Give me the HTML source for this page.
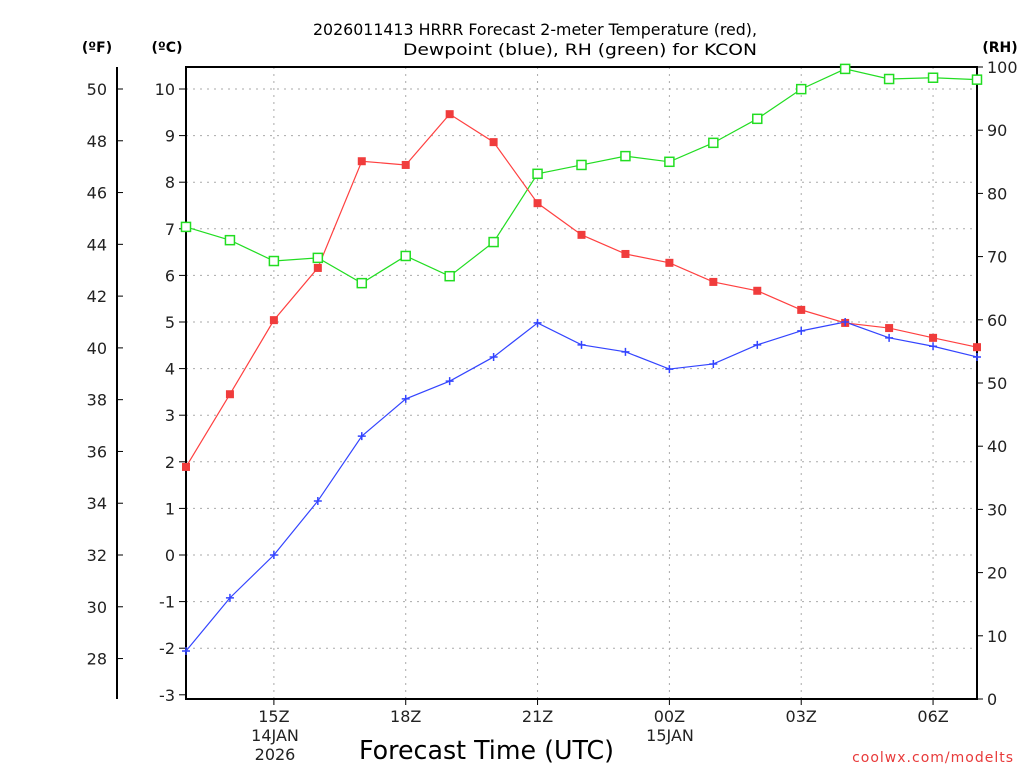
<!DOCTYPE html>
<html><head><meta charset="utf-8"><style>
body{margin:0;background:#fff}
svg text{font-family:"DejaVu Sans","Liberation Sans",sans-serif}
</style></head><body>
<svg id="chart" width="1024" height="768" xmlns="http://www.w3.org/2000/svg">
<g id="grid"></g>
<g id="axes"></g>
<g id="series"></g>
<text x="313" y="35" font-size="16" textLength="444" lengthAdjust="spacingAndGlyphs" fill="#000">2026011413 HRRR Forecast 2-meter Temperature (red),</text>
<text x="403" y="55" font-size="16" textLength="354" lengthAdjust="spacingAndGlyphs" fill="#000">Dewpoint (blue), RH (green) for KCON</text>
<text x="97" y="52" text-anchor="middle" font-size="14" font-weight="bold">(ºF)</text>
<text x="167" y="52" text-anchor="middle" font-size="14" font-weight="bold">(ºC)</text>
<text x="1000" y="52" text-anchor="middle" font-size="14" font-weight="bold">(RH)</text>
<text x="359" y="759" font-size="26" textLength="255" lengthAdjust="spacingAndGlyphs">Forecast Time (UTC)</text>
<text x="1014" y="762" text-anchor="end" font-size="14" fill="#e83a3a" letter-spacing="1">coolwx.com/modelts</text>
</svg>
<script>
const hours=[13,14,15,16,17,18,19,20,21,22,23,24,25,26,27,28,29,30,31];
const tempC=[1.89,3.45,5.04,6.16,8.45,8.37,9.46,8.86,7.55,6.87,6.46,6.27,5.86,5.67,5.26,4.98,4.87,4.66,4.46];
const dewC=[-2.06,-0.92,0,1.16,2.55,3.35,3.73,4.25,4.98,4.51,4.36,3.99,4.10,4.51,4.81,5.0,4.66,4.48,4.25];
const rh=[74.7,72.6,69.3,69.8,65.8,70.1,66.9,72.3,83.1,84.5,85.9,85.0,88.0,91.8,96.5,99.7,98.1,98.3,98.0];
const cTicks=[-3,-2,-1,0,1,2,3,4,5,6,7,8,9,10];
const fTicks=[28,30,32,34,36,38,40,42,44,46,48,50];
const rhTicks=[0,10,20,30,40,50,60,70,80,90,100];
const xTickHours=[15,18,21,24,27,30];
const xTickLabels=["15Z","18Z","21Z","00Z","03Z","06Z"];

const NS="http://www.w3.org/2000/svg";
const L=186,R=977,T=67,B=699;
const x=h=>L+(h-13)*(R-L)/18;
const yC=c=>555-c*46.6;
const yF=f=>yC((f-32)*5/9);
const yR=r=>B-r*(B-T)/100;
function mk(p,tag,a){const e=document.createElementNS(NS,tag);for(const k in a)e.setAttribute(k,a[k]);p.appendChild(e);return e;}
const grid=document.getElementById('grid'),axes=document.getElementById('axes'),ser=document.getElementById('series');
cTicks.forEach(c=>{const y=yC(c);
 if(c>-3){const g=mk(grid,'line',{x1:L,x2:R,y1:y,y2:y,stroke:'#aaa','stroke-dasharray':'2 5'});
 }
 const tk=mk(axes,'line',{x1:L-7,x2:L,y1:y,y2:y,stroke:'#000'});
 
 const t=mk(axes,'text',{x:L-11,y:y+6,'text-anchor':'end','font-size':16,fill:'#222'});t.textContent=c;
 });
fTicks.forEach(f=>{const y=yF(f);
 const tk=mk(axes,'line',{x1:117,x2:123,y1:y,y2:y,stroke:'#000'});
 
 const t=mk(axes,'text',{x:107,y:y+6,'text-anchor':'end','font-size':16,fill:'#222'});t.textContent=f;
 });
rhTicks.forEach(r=>{const y=yR(r);
 const tk=mk(axes,'line',{x1:R,x2:R+6,y1:y,y2:y,stroke:'#000'});
 
 const t=mk(axes,'text',{x:987,y:y+6,'font-size':16,fill:'#222'});t.textContent=r;
 });
xTickHours.forEach((h,i)=>{const X=x(h);
 const g=mk(grid,'line',{x1:X,x2:X,y1:T,y2:B,stroke:'#aaa','stroke-dasharray':'2 5'});
 
 const tk=mk(axes,'line',{x1:X,x2:X,y1:B,y2:B+6,stroke:'#000'});
 
 const t=mk(axes,'text',{x:X,y:722,'text-anchor':'middle','font-size':16,fill:'#222'});t.textContent=xTickLabels[i];
 });
[["14JAN",275,741],["2026",275,760],["15JAN",670,741]].forEach(d=>{
 const t=mk(axes,'text',{x:d[1],y:d[2],'text-anchor':'middle','font-size':16,fill:'#222'});t.textContent=d[0];
 });
const fa=mk(axes,'line',{x1:117,x2:117,y1:T,y2:B,stroke:'#000','stroke-width':2});

const fr=mk(axes,'rect',{x:L,y:T,width:R-L,height:B-T,fill:'none',stroke:'#000','stroke-width':2});


function line(vals,yf,col,name){
 const pts=vals.map((v,i)=>x(hours[i])+','+yf(v)).join(' ');
 const p=mk(ser,'polyline',{points:pts,fill:'none',stroke:col,'stroke-width':1.2});
 
}
line(rh,yR,'#22dd22','rh');
line(tempC,yC,'#ff4040','temperature');
line(dewC,yC,'#3344ff','dewpoint');
rh.forEach((v,i)=>{const r=mk(ser,'rect',{x:x(hours[i])-4.5,y:yR(v)-4.5,width:9,height:9,fill:'#fff',stroke:'#22dd22','stroke-width':1.5});
 });
tempC.forEach((v,i)=>{const r=mk(ser,'rect',{x:x(hours[i])-4,y:yC(v)-4,width:8,height:8,fill:'#f03c3c'});
 });
dewC.forEach((v,i)=>{const X=x(hours[i]),Y=yC(v);
 const p=mk(ser,'path',{d:`M${X-4},${Y}H${X+4}M${X},${Y-4}V${Y+4}`,stroke:'#3344ff','stroke-width':1.5});
 });
</script>
</body></html>
